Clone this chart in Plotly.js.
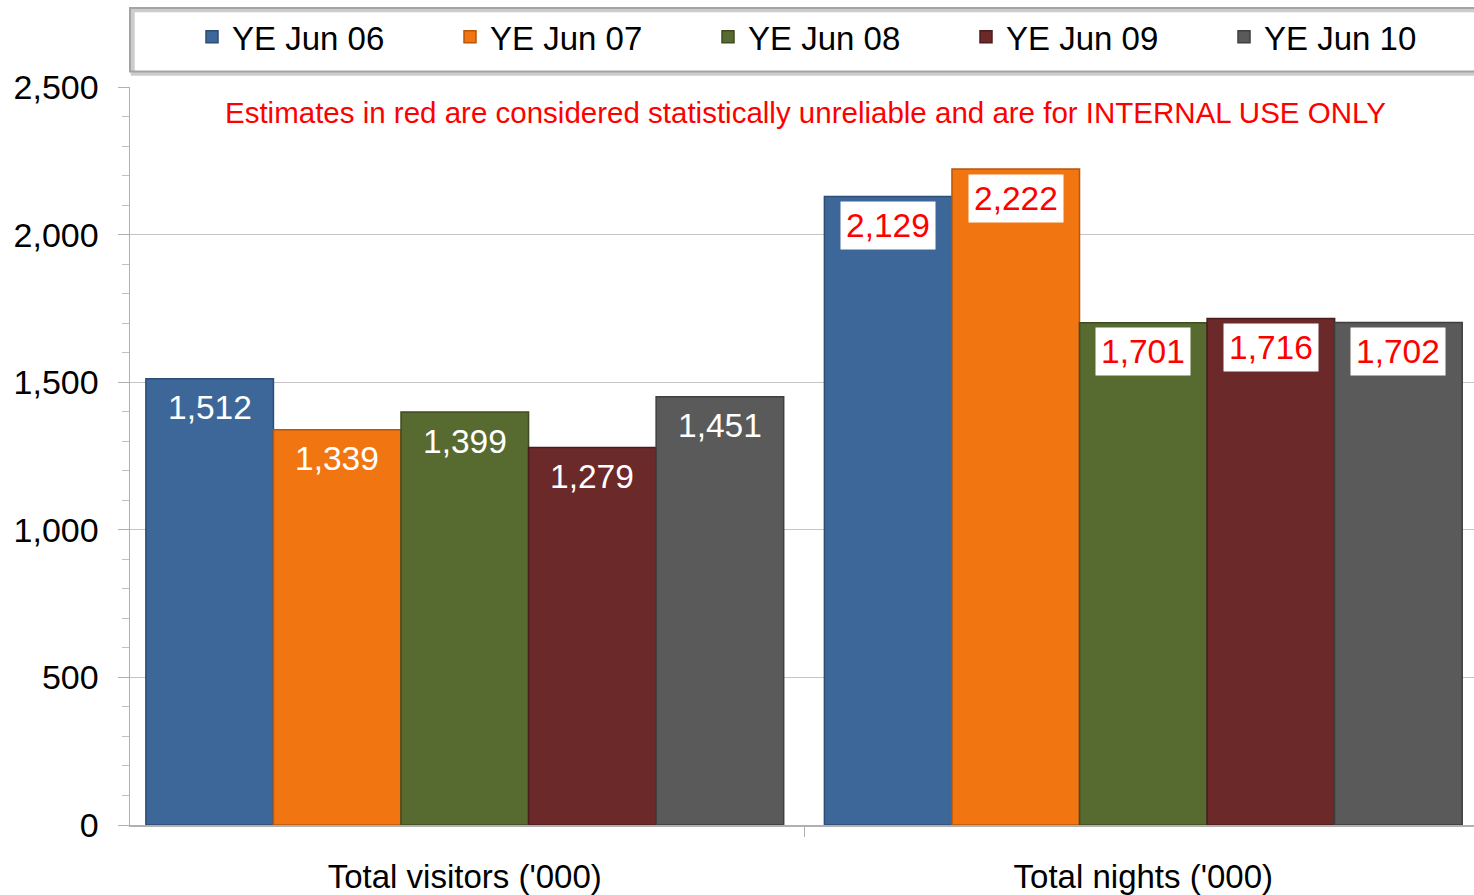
<!DOCTYPE html>
<html>
<head>
<meta charset="utf-8">
<script src="https://cdn.plot.ly/plotly-3.0.1.min.js"></script>
<style>
html,body{margin:0;padding:0;overflow:hidden;background:#fff;}
#chart{width:1482px;height:895px;}
</style>
</head>
<body>
<div id="chart"></div>
<script>
const categories = ["Total visitors ('000)", "Total nights ('000)"];
const seriesNames = ["YE Jun 06", "YE Jun 07", "YE Jun 08", "YE Jun 09", "YE Jun 10"];
const ye06 = [1512, 2129];
const ye07 = [1339, 2222];
const ye08 = [1399, 1701];
const ye09 = [1279, 1716];
const ye10 = [1451, 1702];
const unreliable = [false, true]; // labels in red for second category
const noteText = "Estimates in red are considered statistically unreliable and are for INTERNAL USE ONLY";

const seriesValues = [ye06, ye07, ye08, ye09, ye10];
const colors = ["#3e6799", "#f17612", "#576a2f", "#6b292a", "#5a5a5a"];
const lineColors = ["#2c4d75", "#b9560a", "#3e4c20", "#4c1c1d", "#3f3f3f"];
const bargap = 0.06;
const FONT = 'Liberation Sans, Arial, sans-serif';

const fmt = v => v.toLocaleString('en-US');

const traces = seriesValues.map((vals, i) => ({
  type: 'bar',
  name: seriesNames[i],
  x: categories,
  y: vals,
  marker: {color: colors[i], line: {color: lineColors[i], width: 1.5}},
  hoverinfo: 'skip'
}));

const annotations = [];
const nS = seriesValues.length;
const bw = (1 - bargap) / nS;
seriesValues.forEach((vals, s) => {
  vals.forEach((v, c) => {
    const red = unreliable[c];
    annotations.push({
      xref: 'x', yref: 'y',
      x: c + (s - (nS - 1) / 2) * bw,
      y: v,
      yanchor: 'middle',
      yshift: -29,
      text: fmt(v),
      showarrow: false,
      font: {family: FONT, size: 33.5, color: red ? '#ff0000' : '#ffffff'},
      bgcolor: red ? '#ffffff' : 'rgba(0,0,0,0)',
      borderpad: red ? 5 : 0
    });
  });
});
annotations.push({
  xref: 'paper', yref: 'paper', x: 0.5, y: 0.9648, yanchor: 'middle', xanchor: 'center',
  text: noteText, showarrow: false,
  font: {family: FONT, size: 29.5, color: '#ff0000'}
});

const layout = {
  width: 1482, height: 895,
  margin: {l: 130, r: 0, t: 87, b: 70},
  paper_bgcolor: '#ffffff', plot_bgcolor: '#ffffff',
  barmode: 'group', bargap: bargap, bargroupgap: 0,
  font: {family: FONT, color: '#000000', size: 33},
  showlegend: true,
  legend: {
    orientation: 'h', x: 0.5234, xanchor: 'center', y: 1.068, yanchor: 'middle',
    bgcolor: 'rgba(0,0,0,0)', font: {size: 33, color: '#000'},
    entrywidthmode: 'pixels', entrywidth: 213, traceorder: 'normal'
  },
  xaxis: {
    type: 'category', range: [-0.4934, 1.4977],
    showgrid: false, showline: true, linecolor: '#b0b0b0', linewidth: 1.5,
    ticks: 'outside', tickson: 'boundaries', ticklen: 10, tickcolor: '#b0b0b0',
    tickfont: {size: 33}, ticklabelstandoff: 22, zeroline: false
  },
  yaxis: {
    range: [0, 2500], dtick: 500, tickformat: ',d',
    showgrid: true, gridcolor: '#c4c4c4', gridwidth: 1.2,
    showline: true, linecolor: '#b0b0b0', linewidth: 1.5, zeroline: false,
    ticks: 'outside', ticklen: 11, tickcolor: '#b0b0b0',
    minor: {dtick: 100, ticks: 'outside', ticklen: 7, tickcolor: '#c0c0c0', showgrid: false},
    tickfont: {size: 34}, ticklabelstandoff: 12
  },
  shapes: [
    {type: 'rect', xref: 'paper', yref: 'paper', x0: 0.002, x1: 1.002, y0: 1.018, y1: 1.104,
     line: {color: '#cccccc', width: 4}, fillcolor: 'rgba(0,0,0,0)'},
    {type: 'rect', xref: 'paper', yref: 'paper', x0: 0, x1: 1, y0: 1.021, y1: 1.107,
     line: {color: '#a4a4a4', width: 2}, fillcolor: 'rgba(0,0,0,0)'}
  ],
  annotations: annotations
};

Plotly.newPlot('chart', traces, layout, {displayModeBar: false, staticPlot: true});
</script>
</body>
</html>
